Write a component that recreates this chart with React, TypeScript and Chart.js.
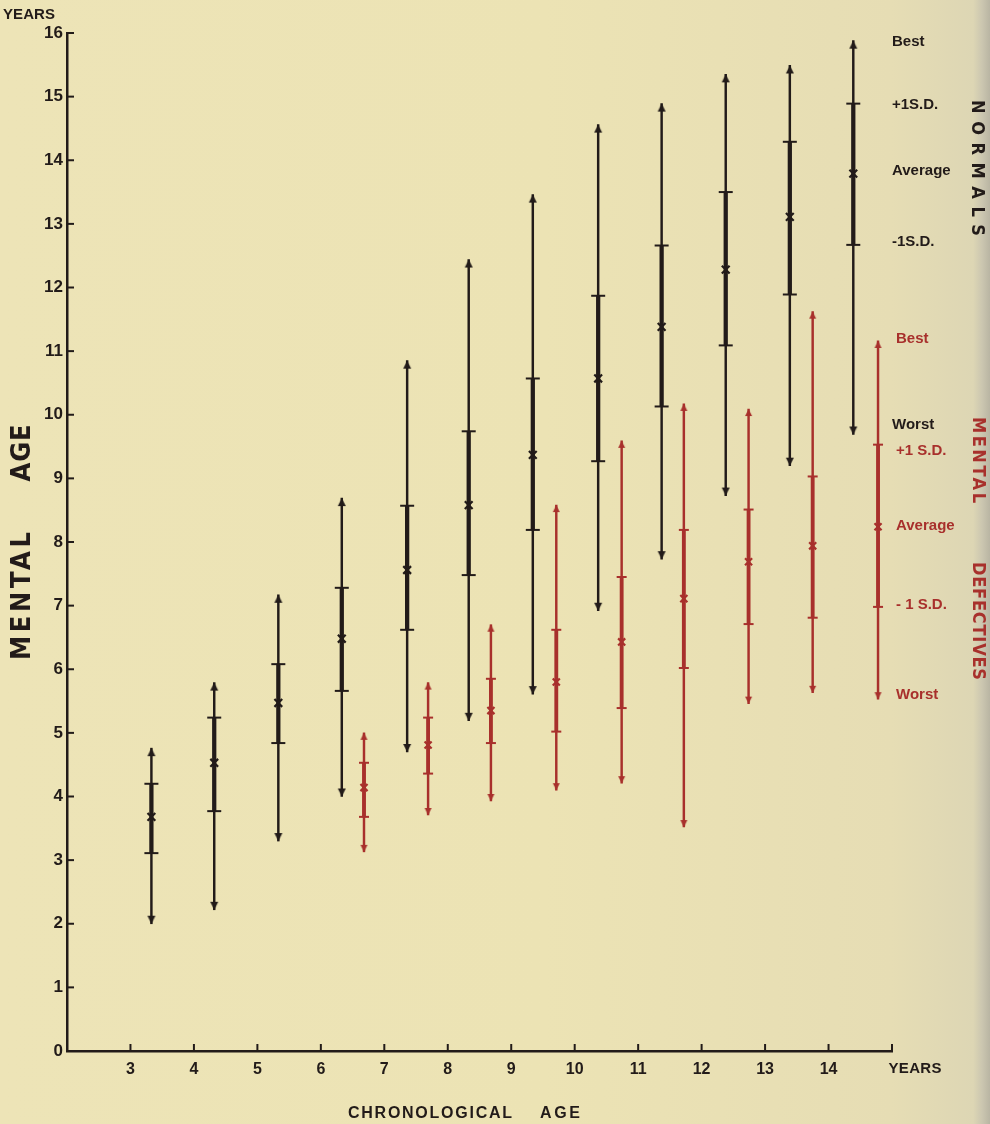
import React, { useEffect, useRef } from 'react';
import { Chart, registerables } from 'chart.js';

Chart.register(...registerables);

// ---------- DATA ----------
const normalAge = [3.33, 4.32, 5.33, 6.33, 7.36, 8.33, 9.34, 10.37, 11.37, 12.38, 13.39, 14.39];
const normalBest = [4.76, 5.79, 7.17, 8.69, 10.85, 12.44, 13.46, 14.56, 14.89, 15.35, 15.49, 15.88];
const normalPlus1SD = [4.2, 5.24, 6.08, 7.28, 8.57, 9.74, 10.57, 11.87, 12.66, 13.5, 14.29, 14.89];
const normalAverage = [3.68, 4.53, 5.47, 6.48, 7.56, 8.58, 9.37, 10.57, 11.38, 12.28, 13.11, 13.79];
const normalMinus1SD = [3.11, 3.77, 4.84, 5.66, 6.62, 7.48, 8.19, 9.27, 10.13, 11.09, 11.89, 12.67];
const normalWorst = [2.0, 2.22, 3.3, 4.0, 4.7, 5.19, 5.61, 6.92, 7.73, 8.73, 9.2, 9.69];

const defectiveAge = [6.68, 7.69, 8.68, 9.71, 10.74, 11.72, 12.74, 13.75, 14.78];
const defectiveBest = [5.0, 5.79, 6.7, 8.58, 9.59, 10.17, 10.09, 11.62, 11.16];
const defectivePlus1SD = [4.53, 5.24, 5.85, 6.62, 7.45, 8.19, 8.51, 9.03, 9.53];
const defectiveAverage = [4.14, 4.81, 5.35, 5.8, 6.43, 7.11, 7.69, 7.94, 8.24];
const defectiveMinus1SD = [3.68, 4.36, 4.84, 5.02, 5.39, 6.02, 6.71, 6.81, 6.98];
const defectiveWorst = [3.13, 3.71, 3.93, 4.1, 4.21, 3.52, 5.46, 5.63, 5.53];

const xTickValues = [3, 4, 5, 6, 7, 8, 9, 10, 11, 12, 13, 14, 15];
const xTickLabels = ['3', '4', '5', '6', '7', '8', '9', '10', '11', '12', '13', '14', ''];
const yTickValues = [0, 1, 2, 3, 4, 5, 6, 7, 8, 9, 10, 11, 12, 13, 14, 15, 16];
const yTickLabels = ['0', '1', '2', '3', '4', '5', '6', '7', '8', '9', '10', '11', '12', '13', '14', '15', '16'];

const normalLegend = ['Best', '+1S.D.', 'Average', '-1S.D.', 'Worst'];
const defectiveLegend = ['Best', '+1 S.D.', 'Average', '- 1 S.D.', 'Worst'];

// ---------- STYLE ----------
const INK = '#221b19';
const RED = '#a8302c';
const NARROW = "'Liberation Sans Narrow', 'DejaVu Sans Condensed', 'Liberation Sans', Arial, sans-serif";
const SANS = "'Liberation Sans', Arial, sans-serif";

function makeArrow(color: string, up: boolean, w: number, len: number) {
  const c = document.createElement('canvas');
  c.width = w + 2;
  c.height = len * 2 + 2;
  const ctx = c.getContext('2d')!;
  const cx = c.width / 2;
  const cy = c.height / 2;
  ctx.fillStyle = color;
  ctx.beginPath();
  if (up) {
    ctx.moveTo(cx, cy);
    ctx.lineTo(cx - w / 2, cy + len);
    ctx.lineTo(cx + w / 2, cy + len);
  } else {
    ctx.moveTo(cx, cy);
    ctx.lineTo(cx - w / 2, cy - len);
    ctx.lineTo(cx + w / 2, cy - len);
  }
  ctx.closePath();
  ctx.fill();
  return c;
}

function spanText(
  ctx: CanvasRenderingContext2D,
  text: string,
  cx: number,
  cy: number,
  angle: number,
  length: number,
  font: string,
  color: string
) {
  ctx.save();
  ctx.translate(cx, cy);
  ctx.rotate(angle);
  ctx.font = font;
  ctx.fillStyle = color;
  ctx.textAlign = 'left';
  ctx.textBaseline = 'middle';
  (ctx as any).letterSpacing = '0px';
  const w0 = ctx.measureText(text).width;
  const n = text.length;
  if (w0 >= length || n < 2) {
    ctx.scale(length / w0, 1);
    ctx.fillText(text, -w0 / 2, 0);
  } else {
    const sp = (length - w0) / (n - 1);
    (ctx as any).letterSpacing = sp + 'px';
    ctx.fillText(text, -length / 2, 0);
  }
  ctx.restore();
}

const decorPlugin = {
  id: 'decor',
  afterDraw(chart: any) {
    const { ctx, chartArea, scales } = chart;
    const x = scales.x;
    const y = scales.y;
    ctx.save();
    ctx.strokeStyle = INK;
    ctx.lineWidth = 2;
    ctx.lineCap = 'butt';
    xTickValues.forEach((v) => {
      const px = x.getPixelForValue(v);
      ctx.beginPath();
      ctx.moveTo(px, chartArea.bottom);
      ctx.lineTo(px, chartArea.bottom - 7);
      ctx.stroke();
    });
    yTickValues.forEach((v) => {
      if (v === 0) return;
      const py = y.getPixelForValue(v);
      ctx.beginPath();
      ctx.moveTo(chartArea.left, py);
      ctx.lineTo(chartArea.left + 7, py);
      ctx.stroke();
    });
    ctx.restore();

    // axis captions
    spanText(ctx, 'YEARS', 29, 15, 0, 52, `bold 15px ${SANS}`, INK);
    spanText(ctx, 'YEARS', 915, 1069, 0, 53, `bold 15px ${SANS}`, INK);
    spanText(ctx, 'MENTAL', 23, 596, -Math.PI / 2, 128, `bold 27px ${NARROW}`, INK);
    spanText(ctx, 'AGE', 23, 453, -Math.PI / 2, 57, `bold 27px ${NARROW}`, INK);
    spanText(ctx, 'CHRONOLOGICAL', 430, 1114, 0, 164, `bold 16px ${SANS}`, INK);
    spanText(ctx, 'AGE', 560, 1114, 0, 40, `bold 16px ${SANS}`, INK);

    // side captions
    spanText(ctx, 'NORMALS', 977, 168, Math.PI / 2, 136, `bold 18px ${NARROW}`, INK);
    spanText(ctx, 'MENTAL', 978, 460, Math.PI / 2, 86, `bold 18px ${NARROW}`, RED);
    spanText(ctx, 'DEFECTIVES', 978, 621, Math.PI / 2, 118, `bold 18px ${NARROW}`, RED);

    // legend labels beside the last bars
    ctx.save();
    ctx.textAlign = 'left';
    ctx.textBaseline = 'middle';
    ctx.font = `bold 15px ${SANS}`;
    ctx.fillStyle = INK;
    const nY = [42, 105, 171, 242, 425];
    normalLegend.forEach((t, i) => ctx.fillText(t, 892, nY[i]));
    ctx.fillStyle = RED;
    const dY = [339, 451, 526, 605, 695];
    defectiveLegend.forEach((t, i) => ctx.fillText(t, 896, dY[i]));
    ctx.restore();
  },
};

export default function App() {
  const canvasRef = useRef<HTMLCanvasElement | null>(null);

  useEffect(() => {
    const canvas = canvasRef.current;
    if (!canvas) return;

    const upBlack = makeArrow(INK, true, 8, 8);
    const downBlack = makeArrow(INK, false, 8, 8);
    const upRed = makeArrow(RED, true, 7, 7);
    const downRed = makeArrow(RED, false, 7, 7);

    const pts = (xs: number[], ys: number[]) => xs.map((x, i) => ({ x, y: ys[i] }));
    const ranges = (xs: number[], lo: number[], hi: number[]) =>
      xs.map((x, i) => ({ x, y: [lo[i], hi[i]] }));

    const barBase = { grouped: false, borderWidth: 0, borderSkipped: false as any };
    const pointBase = { showLine: false, clip: false as any };

    const chart = new Chart(canvas, {
      type: 'bar',
      data: {
        datasets: [
          {
            type: 'scatter', label: 'Normal average', data: pts(normalAge, normalAverage),
            pointStyle: 'crossRot', pointRadius: 5.5, borderColor: INK, borderWidth: 2.2, backgroundColor: INK, ...pointBase,
          } as any,
          {
            type: 'scatter', label: 'Defective average', data: pts(defectiveAge, defectiveAverage),
            pointStyle: 'crossRot', pointRadius: 5, borderColor: RED, borderWidth: 2.2, backgroundColor: RED, ...pointBase,
          } as any,
          {
            type: 'scatter', label: 'Normal +1SD', data: pts(normalAge, normalPlus1SD),
            pointStyle: 'line', pointRadius: 7, borderColor: INK, borderWidth: 2, ...pointBase,
          } as any,
          {
            type: 'scatter', label: 'Normal -1SD', data: pts(normalAge, normalMinus1SD),
            pointStyle: 'line', pointRadius: 7, borderColor: INK, borderWidth: 2, ...pointBase,
          } as any,
          {
            type: 'scatter', label: 'Defective +1SD', data: pts(defectiveAge, defectivePlus1SD),
            pointStyle: 'line', pointRadius: 5, borderColor: RED, borderWidth: 2, ...pointBase,
          } as any,
          {
            type: 'scatter', label: 'Defective -1SD', data: pts(defectiveAge, defectiveMinus1SD),
            pointStyle: 'line', pointRadius: 5, borderColor: RED, borderWidth: 2, ...pointBase,
          } as any,
          {
            type: 'scatter', label: 'Normal best', data: pts(normalAge, normalBest),
            pointStyle: upBlack, pointRadius: 5, ...pointBase,
          } as any,
          {
            type: 'scatter', label: 'Normal worst', data: pts(normalAge, normalWorst),
            pointStyle: downBlack, pointRadius: 5, ...pointBase,
          } as any,
          {
            type: 'scatter', label: 'Defective best', data: pts(defectiveAge, defectiveBest),
            pointStyle: upRed, pointRadius: 5, ...pointBase,
          } as any,
          {
            type: 'scatter', label: 'Defective worst', data: pts(defectiveAge, defectiveWorst),
            pointStyle: downRed, pointRadius: 5, ...pointBase,
          } as any,
          {
            type: 'bar', label: 'Normal SD band', data: ranges(normalAge, normalMinus1SD, normalPlus1SD),
            backgroundColor: INK, barThickness: 3.6, ...barBase,
          } as any,
          {
            type: 'bar', label: 'Defective SD band', data: ranges(defectiveAge, defectiveMinus1SD, defectivePlus1SD),
            backgroundColor: RED, barThickness: 3.2, ...barBase,
          } as any,
          {
            type: 'bar', label: 'Normal range', data: ranges(normalAge, normalWorst, normalBest),
            backgroundColor: INK, barThickness: 1.8, ...barBase,
          } as any,
          {
            type: 'bar', label: 'Defective range', data: ranges(defectiveAge, defectiveWorst, defectiveBest),
            backgroundColor: RED, barThickness: 1.8, ...barBase,
          } as any,
        ],
      },
      options: {
        animation: false,
        responsive: false,
        maintainAspectRatio: false,
        events: [],
        layout: { padding: { left: 0, right: 98, top: 33, bottom: 0 } },
        plugins: {
          legend: { display: false },
          tooltip: { enabled: false },
        },
        scales: {
          x: {
            type: 'linear',
            min: 2,
            max: 15,
            offset: false,
            grid: { display: false, drawTicks: false },
            border: { display: true, color: INK, width: 2.5 },
            ticks: {
              stepSize: 1,
              autoSkip: false,
              maxRotation: 0,
              color: INK,
              padding: 9,
              font: { family: SANS, size: 16, weight: 'bold' },
              callback: (v: any) => {
                const i = xTickValues.indexOf(Number(v));
                return i >= 0 ? xTickLabels[i] : '';
              },
            },
            afterFit: (s: any) => {
              s.height = 73;
            },
          },
          y: {
            type: 'linear',
            min: 0,
            max: 16,
            grid: { display: false, drawTicks: false },
            border: { display: true, color: INK, width: 2.5 },
            ticks: {
              stepSize: 1,
              autoSkip: false,
              color: INK,
              padding: 4,
              font: { family: SANS, size: 17, weight: 'bold' },
              callback: (v: any) => {
                const i = yTickValues.indexOf(Number(v));
                return i >= 0 ? yTickLabels[i] : '';
              },
            },
            afterFit: (s: any) => {
              s.width = 67;
            },
          },
        },
      } as any,
      plugins: [decorPlugin],
    });

    return () => {
      chart.destroy();
    };
  }, []);

  return (
    <div
      style={{
        position: 'fixed',
        left: 0,
        top: 0,
        width: 990,
        height: 1124,
        background:
          'linear-gradient(to right, #ede4b7 0%, #ece3b4 55%, #e6ddb4 90%, #ddd6b4 98.3%, #cbc6b0 99.2%, #b9b5a3 100%)',
        overflow: 'hidden',
      }}
    >
      <canvas ref={canvasRef} width={990} height={1124} style={{ width: 990, height: 1124, display: 'block' }} />
    </div>
  );
}
